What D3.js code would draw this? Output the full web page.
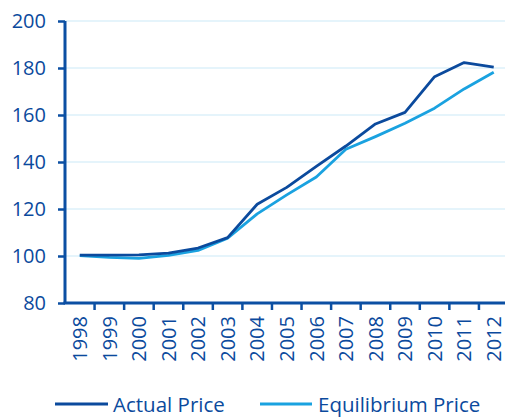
<!DOCTYPE html>
<html>
<head>
    <meta charset="utf-8">
    <script src="https://cdn.jsdelivr.net/npm/d3@7"></script>
    <style>
        body { margin: 0; background: #fff; }
        text { font-family: "Open Sans", sans-serif; fill: #0b4a9d; }
    </style>
</head>
<body>
<script>
    const years = ["1998", "1999", "2000", "2001", "2002", "2003", "2004", "2005",
        "2006", "2007", "2008", "2009", "2010", "2011", "2012"];
    const actual = [100.4, 100.4, 100.5, 101.2, 103.4, 107.8, 122.0, 129.2,
        138.1, 146.8, 156.2, 161.1, 176.3, 182.3, 180.4];
    const equilibrium = [100.2, 99.4, 99.0, 100.3, 102.4, 107.6, 117.9, 126.0,
        133.6, 145.4, 150.8, 156.5, 162.9, 171.1, 178.2];
    const yTicks = [80, 100, 120, 140, 160, 180, 200];
    const seriesNames = ["Actual Price", "Equilibrium Price"];

    const width = 505, height = 418;
    const axisColor = "#0b4fa3";
    const colors = ["#0b4a9d", "#1aa2e0"];

    const svg = d3.select("body").append("svg")
        .attr("width", width).attr("height", height);

    const x = d3.scaleBand().domain(years).range([65, 508.5]);
    const y = d3.scaleLinear().domain([80, 200]).range([303, 21]);

    // gridlines
    svg.append("g")
        .selectAll("line")
        .data(yTicks.slice(1))
        .join("line")
        .attr("x1", 65).attr("x2", width)
        .attr("y1", d => y(d)).attr("y2", d => y(d))
        .attr("stroke", "#dcf0fa").attr("stroke-width", 1.5);

    // y axis
    const gy = svg.append("g").attr("transform", "translate(65,0)")
        .call(d3.axisLeft(y).tickValues(yTicks).tickSize(7).tickPadding(12))
        .call(g => g.select(".domain").attr("stroke", axisColor).attr("stroke-width", 3)
            .attr("d", `M0,${y(200)}V${y(80)}`));
    gy.selectAll(".tick line").attr("stroke", axisColor).attr("stroke-width", 2.5);
    gy.selectAll(".tick text").attr("font-size", 20).style("font-family", "Open Sans");

    // x axis
    const gx = svg.append("g").attr("transform", `translate(0,${y(80)})`)
        .call(d3.axisBottom(x).tickSize(0).tickPadding(0))
        .call(g => g.select(".domain").attr("stroke", axisColor).attr("stroke-width", 3)
            .attr("d", `M63.5,0H${width}`));
    gx.selectAll(".tick text")
        .attr("font-size", 20)
        .attr("transform", "rotate(-90)")
        .attr("text-anchor", "end")
        .attr("dy", "0.36em")
        .attr("x", -13).attr("y", 0);

    // ticks between bands
    svg.append("g")
        .selectAll("line")
        .data(years.slice(1))
        .join("line")
        .attr("x1", d => x(d)).attr("x2", d => x(d))
        .attr("y1", y(80)).attr("y2", y(80) + 7)
        .attr("stroke", axisColor).attr("stroke-width", 2.5);

    const line = d3.line()
        .x((d, i) => x(years[i]) + x.bandwidth() / 2)
        .y(d => y(d));

    [equilibrium, actual].forEach((s, k) => {
        svg.append("path")
            .datum(s)
            .attr("fill", "none")
            .attr("stroke", k === 0 ? colors[1] : colors[0])
            .attr("stroke-width", 2.8)
            .attr("stroke-linejoin", "round")
            .attr("d", line);
    });

    // legend
    const legendPos = [[55, 108, 113], [260, 312, 318]];
    const lg = svg.append("g");
    seriesNames.forEach((name, i) => {
        const p = legendPos[i];
        lg.append("line")
            .attr("x1", p[0]).attr("x2", p[1])
            .attr("y1", 404).attr("y2", 404)
            .attr("stroke", colors[i]).attr("stroke-width", 3);
        lg.append("text")
            .attr("x", p[2]).attr("y", 412)
            .attr("font-size", 20.5)
            .text(name);
    });
</script>
</body>
</html>
